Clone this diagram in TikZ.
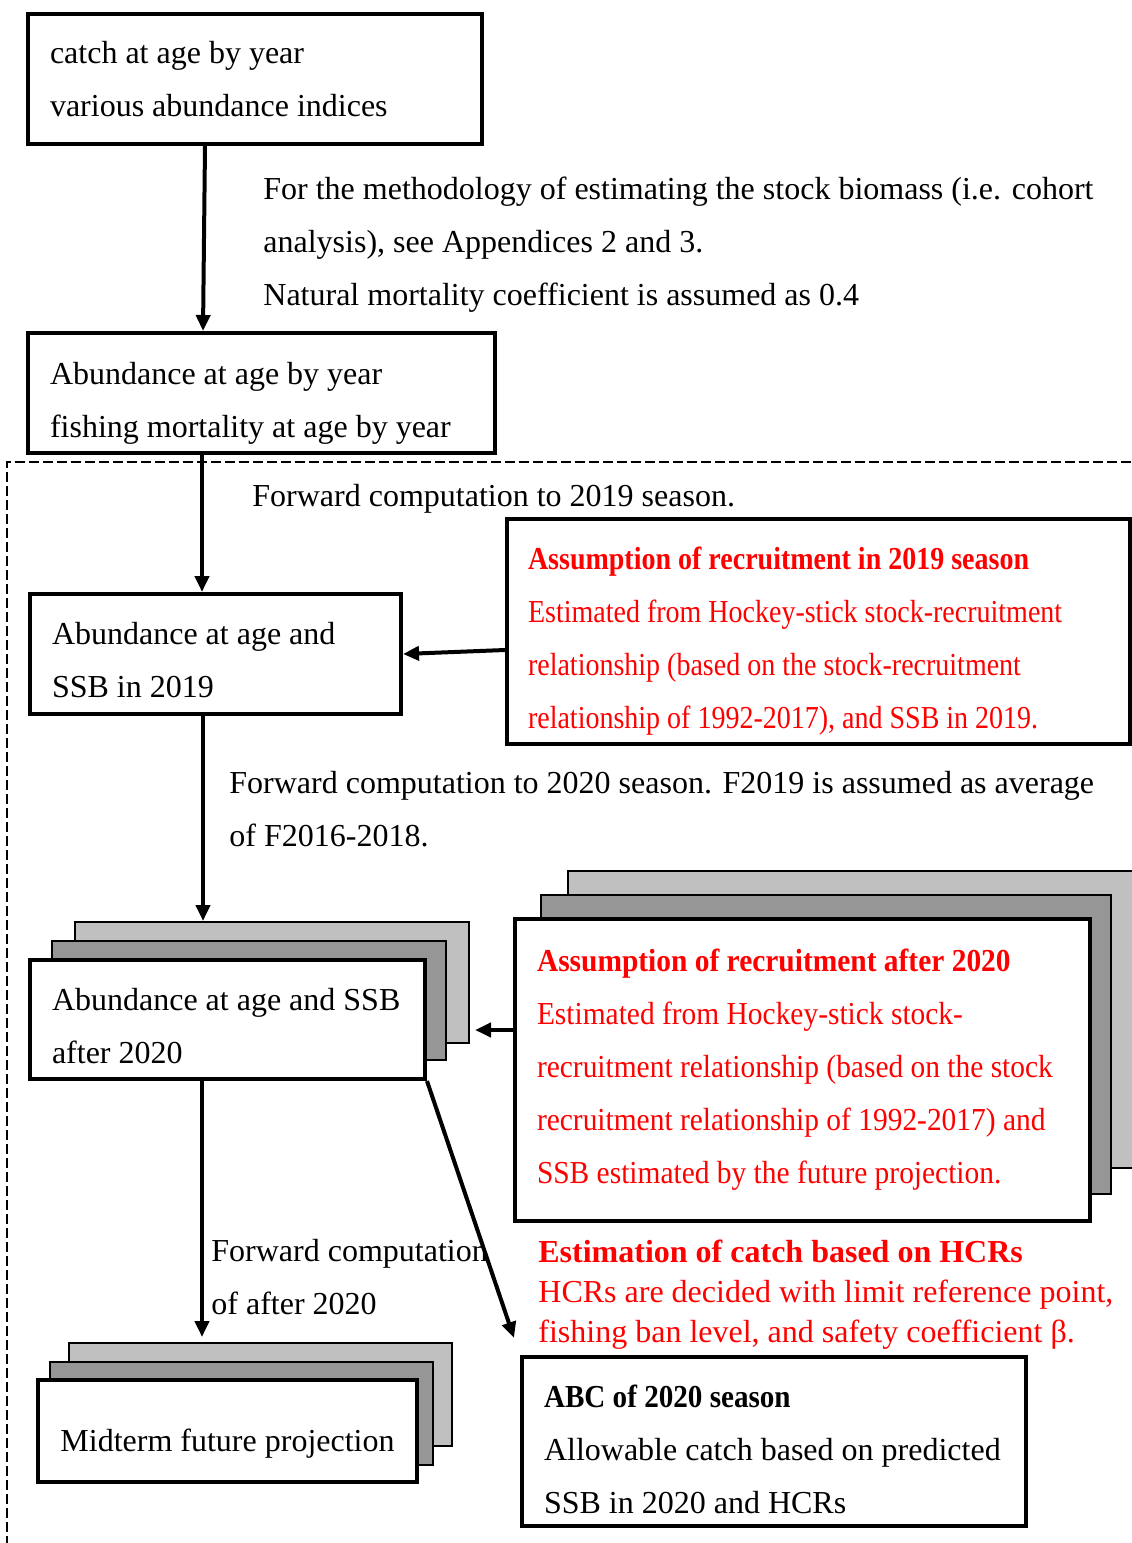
\documentclass[tikz,border=0pt]{standalone}
\usepackage{fontspec}
\setmainfont{Liberation Serif}
\newfontfamily\condfont[FakeStretch=0.875]{Liberation Serif}
\newfontfamily\condfontb[FakeStretch=0.92]{Liberation Serif}
\newfontfamily\condfontc[FakeStretch=0.91]{Liberation Serif}
\usetikzlibrary{arrows.meta}
\definecolor{lgray}{RGB}{192,192,192}
\definecolor{dgray}{RGB}{150,150,150}
\definecolor{myred}{RGB}{255,0,0}
\newcommand\tpush[1]{\rule{0pt}{\dimexpr 11pt+#1\relax}}
\begin{document}
\begin{tikzpicture}[x=0.5pt,y=-0.5pt,
 every node/.style={font=\fontsize{16}{26.5}\selectfont},
 box/.style={draw, line width=2pt, fill=white, inner sep=0pt, align=flush left},
 backbox/.style={draw, line width=1pt, inner sep=0pt},
 redtext/.style={text=myred, font=\condfont\fontsize{16}{26.5}\selectfont},
 redtextb/.style={text=myred, font=\condfontb\fontsize{16}{26.5}\selectfont},
 arr/.style={line width=2pt, -{Triangle[length=8pt,width=7pt]}},
 free/.style={inner sep=0pt, align=left, anchor=west}]
\useasboundingbox (0,0) rectangle (1131,1543);
\fill[white] (0,0) rectangle (1131,1543);

% dashed frame
\draw[line width=1pt, dash pattern=on 5pt off 2pt] (1131,462) -- (7,462) -- (7,1543);

% boxes
\node[box, minimum width=227pt, minimum height=65pt, text width=205pt] (b1) at (255,79)
 {catch at age by year\\various abundance indices};
\node[box, minimum width=233.5pt, minimum height=60pt, text width=211.5pt] (b2) at (261.5,393)
 {\tpush{10pt}Abundance at age by year\\fishing mortality at age by year};
\node[box, minimum width=185.5pt, minimum height=60pt, text width=163.5pt] (b3) at (215.5,654)
 {\tpush{6.5pt}Abundance at age and\\SSB in 2019};
\node[box, redtext, minimum width=311.5pt, minimum height=112.5pt, text width=290.5pt] (r1) at (818.5,631.5)
 {\tpush{9.5pt}{\bfseries Assumption of recruitment in 2019 season}\\
 Estimated from Hockey-stick stock-recruitment\\
 relationship (based on the stock-recruitment\\
 relationship of 1992-2017), and SSB in 2019.};

% stacked box after 2020
\node[backbox, fill=lgray, minimum width=197pt, minimum height=60.5pt] (b4c) at (272,982.5) {};
\node[backbox, fill=dgray, minimum width=197pt, minimum height=59.5pt] (b4b) at (249,1000.5) {};
\node[box, minimum width=197.5pt, minimum height=59.5pt, text width=175.5pt] (b4) at (227.5,1019.5)
 {\tpush{7pt}Abundance at age and SSB\\after 2020};

% stacked red box
\node[backbox, fill=lgray, minimum width=288.5pt, minimum height=148.5pt] (r2c) at (856.5,1019.5) {};
\node[backbox, fill=dgray, minimum width=285pt, minimum height=149.5pt] (r2b) at (826,1044.5) {};
\node[box, redtextb, minimum width=287.5pt, minimum height=151pt, text width=265.5pt] (r2) at (802.5,1070)
 {{\bfseries Assumption of recruitment after 2020}\\
 Estimated from Hockey-stick stock-\\
 recruitment relationship (based on the stock\\
 recruitment relationship of 1992-2017) and\\
 SSB estimated by the future projection.};

% midterm stack
\node[backbox, fill=lgray, minimum width=191.5pt, minimum height=51.5pt] (mc) at (260.5,1394.5) {};
\node[backbox, fill=dgray, minimum width=191.5pt, minimum height=51.5pt] (mb) at (241.5,1413.5) {};
\node[box, align=center, minimum width=189.5pt, minimum height=51pt] (m) at (227.5,1431)
 {\tpush{13pt}Midterm future projection};

% ABC box
\node[box, minimum width=252pt, minimum height=84.5pt, text width=230pt] (abc) at (774,1441.5)
 {\tpush{8pt}{\condfontc\bfseries ABC of 2020 season}\\Allowable catch based on predicted\\SSB in 2020 and HCRs};

% free texts
\node[free] (t1) at (263,245) {For the methodology of estimating the stock biomass (i.e. cohort\\
 analysis), see Appendices 2 and 3.\\Natural mortality coefficient is assumed as 0.4};
\node[free] (t2) at (252,499) {Forward computation to 2019 season.};
\node[free] (t3) at (229,809) {Forward computation to 2020 season. F2019 is assumed as average\\of F2016-2018.};
\node[free] (t4) at (211,1277) {Forward computation\\of after 2020};
\node[free, text=myred, font=\fontsize{16}{20}\selectfont] (t5) at (538,1295)
 {\textbf{Estimation of catch based on HCRs}\\HCRs are decided with limit reference point,\\fishing ban level, and safety coefficient β.};

% connectors
\draw[arr] ([shift={(-50,0)}]b1.south) -- ([shift={(-58.5,0)}]b2.north);
\draw[arr] ([shift={(-59.5,0)}]b2.south) -- ([shift={(-13.5,0)}]b3.north);
\draw[arr] ([shift={(0,18.5)}]r1.west) -- (b3.east);
\draw[arr] ([shift={(-12.5,-2)}]b3.south) -- ([shift={(-69,0)}]b4c.north);
\draw[arr, shorten >=2.5pt] ([shift={(0,-40)}]r2.west) -- ([shift={(0,-40)}]r2.west -| b4c.east);
\draw[arr, shorten >=2.5pt] ([shift={(-25.5,0)}]b4.south) -- ([shift={(-58.5,0)}]mc.north);
\draw[arr] (b4.south east) -- ([shift={(-6,-17)}]abc.north west);
\end{tikzpicture}
\end{document}
